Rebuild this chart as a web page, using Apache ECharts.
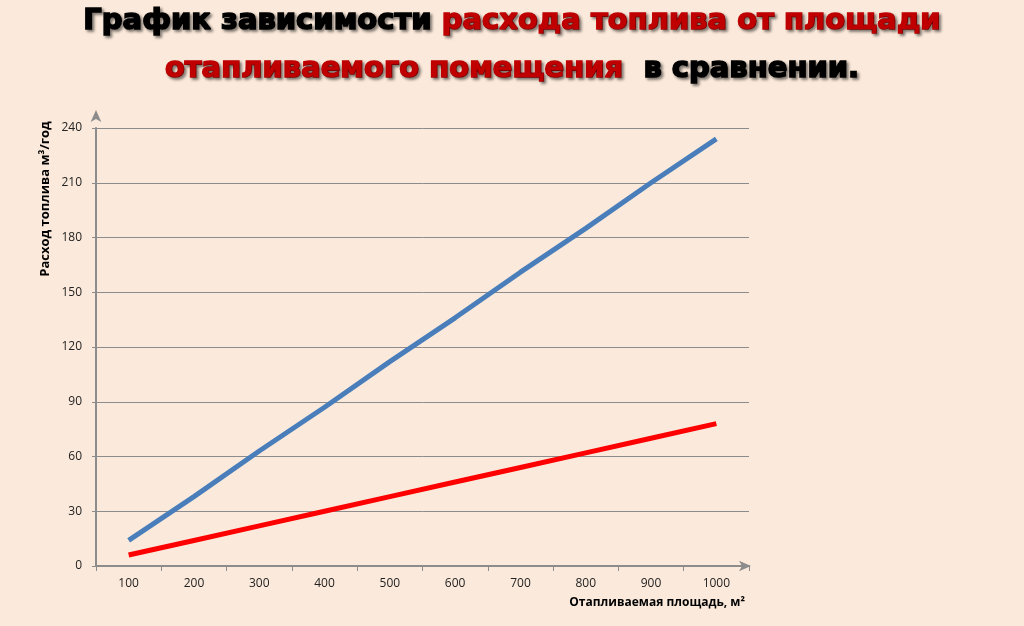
<!DOCTYPE html>
<html><head><meta charset="utf-8">
<script src="https://cdn.jsdelivr.net/npm/echarts@6/dist/echarts.min.js"></script>
<style>html,body{margin:0;padding:0;background:#fbeadb}#c{width:1024px;height:626px}</style>
</head><body><div id="c"></div>
<script>
const categories = ['100','200','300','400','500','600','700','800','900','1000'];
const blueValues = [14,38,63,87,112,136,161,185,210,234];
const redValues = [6,14,22,30,38,46,54,62,70,78];
const yTicks = {min:0,max:240,interval:30};

const chart = echarts.init(document.getElementById('c'));
const titleFont = '"DejaVu Sans", sans-serif';
const sh = {textShadowColor:'rgba(0,0,0,0.45)',textShadowBlur:3,textShadowOffsetX:2,textShadowOffsetY:2};
function st(c){return Object.assign({fill:c,stroke:c,lineWidth:1.6,font:'bold 29px '+titleFont},sh);}
chart.setOption({
  backgroundColor:'#fbeadb',
  grid:{left:96,right:275,top:128,bottom:60},
  xAxis:{type:'category',data:categories,boundaryGap:true,
    axisLine:{lineStyle:{color:'#8c8c8c',width:2},symbol:['none','arrow'],symbolSize:[8,12],symbolOffset:[0,2]},
    axisTick:{show:true,length:5,lineStyle:{color:'#8c8c8c'}},
    axisLabel:{color:'#222',fontSize:12,fontFamily:'"Open Sans", sans-serif',margin:12}},
  yAxis:{type:'value',min:yTicks.min,max:yTicks.max,interval:yTicks.interval,
    axisLine:{show:true,lineStyle:{color:'#8c8c8c',width:2},symbol:['none','arrow'],symbolSize:[8,12],symbolOffset:[0,18]},
    axisTick:{show:true,length:4,lineStyle:{color:'#8c8c8c'}},
    splitLine:{lineStyle:{color:'#8c8c8c',width:1}},
    axisLabel:{color:'#222',fontSize:12,fontFamily:'"Open Sans", sans-serif',margin:14}},
  series:[
    {type:'line',data:blueValues,symbol:'none',lineStyle:{color:'#4a7ebb',width:5},z:3},
    {type:'line',data:redValues,symbol:'none',lineStyle:{color:'#ff0000',width:5},z:3}
  ],
  graphic:[
    {type:'text',left:'center',top:6,style:{rich:{b:st('#000'),r:st('#c00000')},
      text:'{b|График зависимости }{r|расхода топлива от площади}'}},
    {type:'text',left:'center',top:54,style:{rich:{b:st('#000'),r:st('#c00000')},
      text:'{r|отапливаемого помещения}{b|  в сравнении.}'}},
    {type:'text',x:45,y:199,rotation:Math.PI/2,style:{text:'Расход топлива м³/год',fill:'#000',font:'bold 13px "Open Sans", sans-serif',align:'center',verticalAlign:'middle'}},
    {type:'text',x:745,y:603,style:{text:'Отапливаемая площадь, м²',fill:'#000',font:'bold 12px "Open Sans", sans-serif',align:'right',verticalAlign:'middle'}}
  ]
});
</script></body></html>
